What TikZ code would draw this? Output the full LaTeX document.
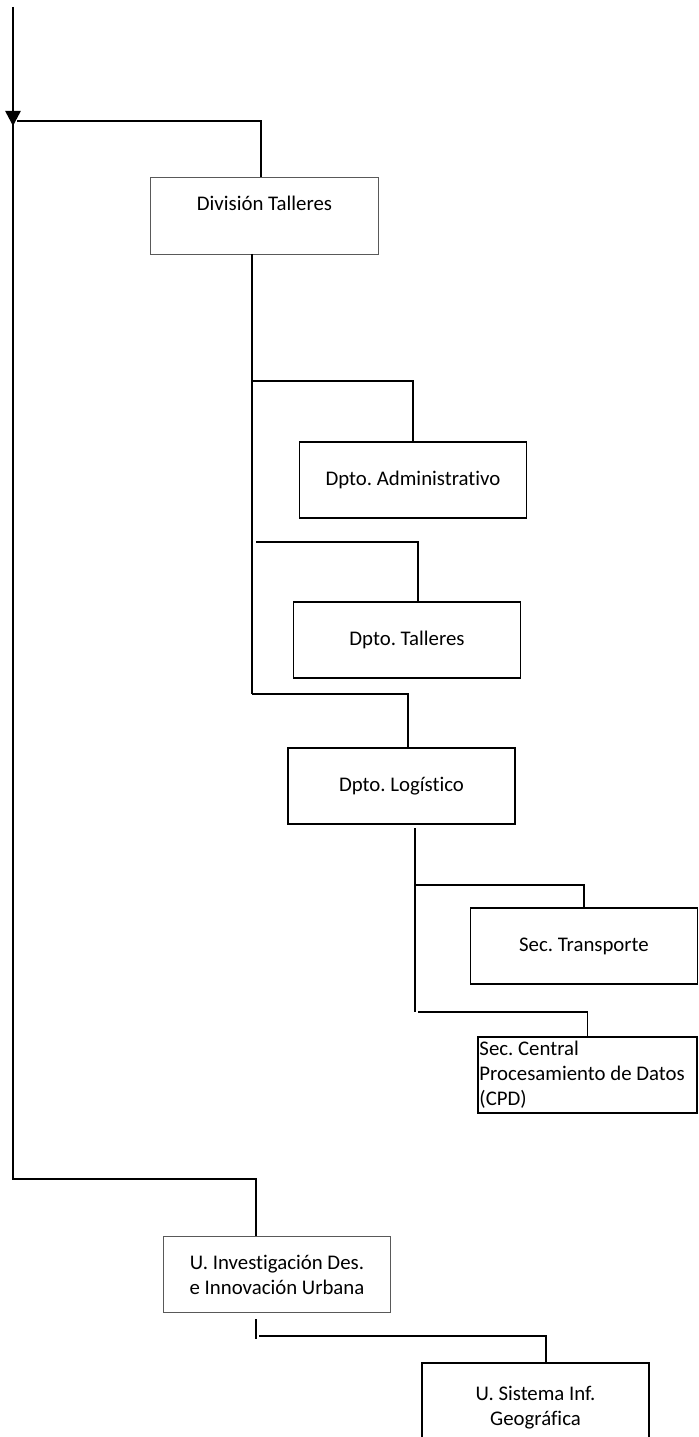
\documentclass[tikz,border=0pt]{standalone}
\usepackage{fontspec}
\setmainfont{Carlito}[Ligatures=NoCommon]
\frenchspacing
\usetikzlibrary{
  positioning,
  arrows.meta,
  arrows
}

\tikzset{
  unit/.style={draw, line width=1.1pt, minimum width=5.675cm, minimum height=1.9cm,
    inner sep=1pt, align=center, font=\fontsize{14.8}{17.8}\selectfont},
  headunit/.style={unit, draw=black!65, line width=0.7pt},
  link/.style={line width=1.4pt}
}

\begin{document}
\begin{tikzpicture}[x=0.025cm,y=-0.025cm,>={Triangle[width=0.375cm,length=0.375cm]}]
        \useasboundingbox (0,0) rectangle (698,1437);

        % boxes
        \node[headunit] (divT) at (264.5,216) {División Talleres\\\mbox{}};
        \node[unit] (admin) at (413,480) {Dpto. Administrativo};
        \node[unit] (dtall) at (407,640) {Dpto. Talleres};
        \node[unit] (logis) at (401.5,786) {Dpto. Logístico};
        \node[unit] (transp) at (584,946) {Sec. Transporte};
        \node[unit, minimum width=5.475cm, text width=5.4cm, align=flush left] (cpd) at (587.5,1075) {Sec. Central\\Procesamiento de Datos\\(CPD)};
        \node[headunit] (uinv) at (277,1274.5) {U. Investigación Des.\\e Innovación Urbana};
        \node[unit, minimum height=2.25cm] (usig) at (535.5,1408) {U. Sistema Inf.\\Geográfica};

        % junctions
        \coordinate (start) at (13,7);
        \coordinate (tip) at (13,126);
        \coordinate (jtop) at (13,121);
        \coordinate (jbot) at (13,1179);
        \coordinate (divIn) at (261,121);
        \coordinate (trA) at (252,254);
        \coordinate (trB) at (252,694);
        \coordinate (b1) at (252,381);
        \coordinate (b2) at (256,542);
        \coordinate (b2end) at (418,542);
        \coordinate (b3end) at (408,694);
        \coordinate (lA) at (415,828);
        \coordinate (lB) at (415,1012);
        \coordinate (l1) at (415,885);
        \coordinate (l2) at (418,1012);
        \coordinate (uIn) at (256,1179);
        \coordinate (uA) at (256,1319);
        \coordinate (uB) at (256,1339);
        \coordinate (u1) at (259,1336);
        \coordinate (u1end) at (546,1336);

        \draw[->,line width=1.8pt] (start) -- (tip);
        \draw[link] (jtop) -- (jbot) -- (uIn) -- (uIn |- uinv.north);
        \draw[link] ([xshift=3pt]jtop) -- (divIn) -- (divIn |- divT.north);

        \draw[link] (trA) -- (trB);
        \draw[link] (b1) -| (admin.north);
        \draw[link] (b2) -- (b2end) -- (b2end |- dtall.north);
        \draw[link] (trB) -- (b3end) -- (b3end |- logis.north);

        \draw[link] (lA) -- (lB);
        \draw[link] (l1) -| (transp.north);
        \draw[link] (l2) -| (cpd.north);

        \draw[link] (uA) -- (uB);
        \draw[link] (u1) -- (u1end) -- (u1end |- usig.north);
    \end{tikzpicture}
\end{document}
